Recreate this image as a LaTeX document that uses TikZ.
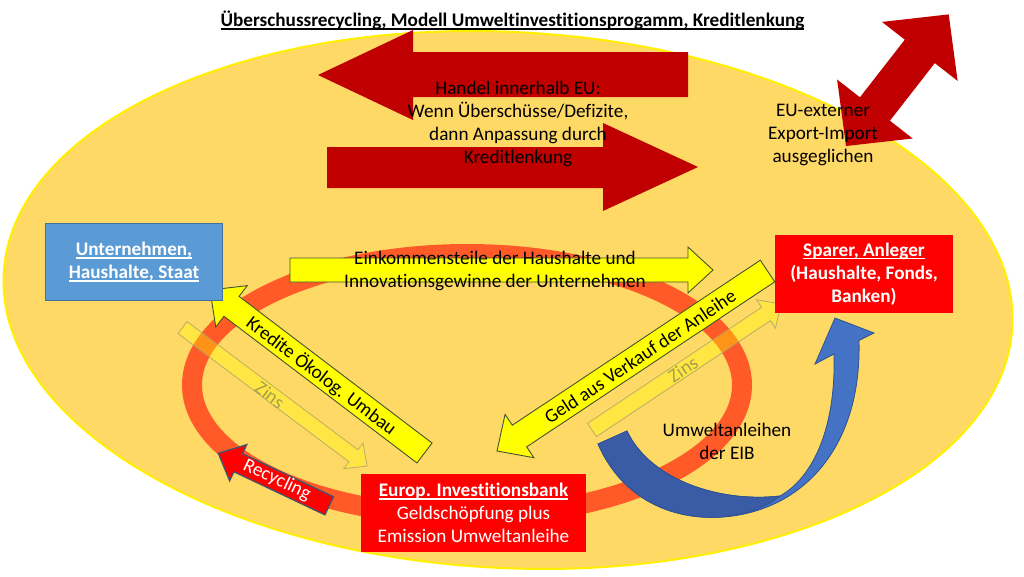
\documentclass[tikz,border=0pt]{standalone}
\usepackage{fontspec}
\setmainfont{Carlito}[Ligatures=NoCommon]
\usetikzlibrary{calc}
\definecolor{ellfill}{HTML}{FFD966}
\definecolor{ellborder}{HTML}{FFF000}
\definecolor{darkred}{HTML}{C00000}
\definecolor{ringcol}{HTML}{FF5A28}
\definecolor{arrowyellow}{HTML}{FFFF00}
\definecolor{arrowedge}{HTML}{43532E}
\definecolor{zinsedge}{HTML}{A8A070}
\definecolor{zinstext}{HTML}{A89E50}
\definecolor{boxblue}{HTML}{5B9BD5}
\definecolor{boxblueedge}{HTML}{41719C}
\definecolor{boxred}{HTML}{FF0000}
\definecolor{recedge}{HTML}{44546A}
\definecolor{bluearrow}{HTML}{4472C4}
\definecolor{bluearrowdark}{HTML}{3A5CA6}
\definecolor{bluearrowedge}{HTML}{2F528F}
\newcommand{\myul}[1]{\setbox0\hbox{#1}\rlap{\vrule height -1.6pt depth 2.9pt width \wd0}\box0}
% block arrow: style, name, tail, tip, shaft half width, head half width, head length
\newcommand{\blockarrow}[7]{%
  \coordinate (#2-hb) at ($(#4)!#7!(#3)$);
  \path[#1] ($(#3)!#5!90:(#4)$) -- ($(#2-hb)!#5!90:(#4)$) -- ($(#2-hb)!#6!90:(#4)$)
    -- (#4) -- ($(#2-hb)!#6!-90:(#4)$) -- ($(#2-hb)!#5!-90:(#4)$) -- ($(#3)!#5!-90:(#4)$) -- cycle;
}
\tikzset{
  body/.style={font=\fontsize{19.2}{23}\selectfont, align=center, inner sep=0pt},
  boldbody/.style={font=\fontsize{19.2}{23}\selectfont\bfseries, align=center, inner sep=0pt},
  yarrow/.style={fill=arrowyellow, draw=arrowedge, line width=0.9pt, line join=miter},
  zarrow/.style={fill=arrowyellow, fill opacity=0.35, draw=zinsedge, draw opacity=0.8, line width=0.8pt},
  recarrow/.style={fill=boxred, draw=recedge, line width=1.3pt},
  redbox/.style={boldbody, fill=boxred, text=white, minimum width=178pt, minimum height=78pt},
  bluebox/.style={boldbody, fill=boxblue, draw=boxblueedge, line width=0.8pt, text=white, minimum width=177pt, minimum height=77pt},
}
\begin{document}
\begin{tikzpicture}[x=1pt,y=-1pt]
\useasboundingbox (0,0) rectangle (1024,576);
\fill[white] (0,0) rectangle (1024,576);
% big ellipse
\draw[fill=ellfill, draw=ellborder, line width=2pt, rotate around={-3:(508,300)}] (508,300) ellipse [x radius=505, y radius=268];
% title
\node[boldbody] (title) at (512.5,20.5) {\myul{Überschussrecycling, Modell Umweltinvestitionsprogamm, Kreditlenkung}};
% red trade arrows
\fill[darkred] (688,52) -- (413,52) -- (413,30) -- (318,75) -- (413,120) -- (413,97) -- (688,97) -- cycle;
\fill[darkred] (327,147) -- (603,147) -- (603,123) -- (698,167) -- (603,211) -- (603,188) -- (327,188) -- cycle;
\fill[darkred] (846,146) -- (912.7,138.5) -- (889.9,120.7) -- (934.8,63.1) -- (957.6,80.9) -- (948.7,14.4)
  -- (882,21.9) -- (904.8,39.7) -- (859.9,97.3) -- (837.1,79.5) -- cycle;
\node[body] (handel) at (518,123.5) {Handel innerhalb EU:\\Wenn Überschüsse/Defizite,\\dann Anpassung durch\\Kreditlenkung};
\node[body] (extern) at (823,135) {EU-externer\\Export-Import\\ausgeglichen};
% ring
\draw[ringcol, line width=20pt] (467,385) ellipse [x radius=275, y radius=131];
% Zins arrows
\coordinate (zl-tail) at (182.5,327.5);
\coordinate (zl-tip) at (367,466);
\blockarrow{zarrow}{zl}{zl-tail}{zl-tip}{7.5pt}{16pt}{17pt}
\coordinate (zr-tail) at (592,430);
\coordinate (zr-tip) at (781,304);
\blockarrow{zarrow}{zr}{zr-tail}{zr-tip}{8pt}{17pt}{18pt}
\node[body, text=zinstext, rotate=-37] (zinsl) at (270,395) {Zins};
\node[body, text=zinstext, rotate=33.7] (zinsr) at (683,369) {Zins};
% top yellow arrow
\path[yarrow] (290,258) -- (688,258) -- (688,247) -- (713,270) -- (688,293) -- (688,282) -- (290,282) -- cycle;
\node[body] (eink) at (495,270.5) {Einkommensteile der Haushalte und\\Innovationsgewinne der Unternehmen};
% Kredite arrow
\coordinate (kr-tail) at (424.5,453);
\coordinate (kr-tip) at (210,290);
\blockarrow{yarrow}{kr}{kr-tail}{kr-tip}{12.5pt}{26pt}{27pt}
\node[body, rotate=-37.2] (kredlab) at (321.5,376) {Kredite Ökolog. Umbau};
% Geld arrow
\coordinate (ge-tail) at (767.5,271);
\coordinate (ge-tip) at (497,451);
\blockarrow{yarrow}{ge}{ge-tail}{ge-tip}{13pt}{26pt}{27pt}
\node[body, rotate=33.7] (geldlab) at (640,356.5) {Geld aus Verkauf der Anleihe};
% blue curved arrow
\coordinate (bl-start) at (598,444);
\coordinate (bl-tip) at (835,318);
\path[fill=bluearrow, draw=bluearrowedge, line width=0.8pt]
  (bl-start) .. controls (625,505) and (680,520) .. (722,517)
  .. controls (800,512) and (862,450) .. (859,340.5)
  -- (874,333) -- (bl-tip) -- (815,364) -- (834,354)
  .. controls (836,430) and (812,478) .. (780,496)
  .. controls (720,503) and (650,480) .. (627,431) -- cycle;
\path[fill=bluearrowdark, draw=bluearrowedge, line width=0.8pt]
  (bl-start) .. controls (625,505) and (680,520) .. (722,517)
  .. controls (745,515) and (765,508) .. (780,496)
  .. controls (720,503) and (650,480) .. (627,431) -- cycle;
\node[body] (umwelt) at (727,441.5) {Umweltanleihen\\der EIB};
% boxes
\node[bluebox] (unt) at (134,262) {\myul{Unternehmen,}\\\myul{Haushalte, Staat}};
\node[redbox] (sparer) at (864,274) {\myul{Sparer, Anleger}\\(Haushalte, Fonds,\\Banken)};
\node[redbox, minimum width=225pt] (eib) at (473.5,513) {\myul{Europ. Investitionsbank}\\\mdseries Geldschöpfung plus\\\mdseries Emission Umweltanleihe};
% recycling arrow
\coordinate (re-tail) at (329.2,505.8);
\coordinate (re-tip) at (218.3,453.3);
\blockarrow{recarrow}{re}{re-tail}{re-tip}{10pt}{20pt}{22pt}
\node[body, text=white, rotate=-25.3] (reclab) at (277,480) {Recycling};
\end{tikzpicture}
\end{document}
